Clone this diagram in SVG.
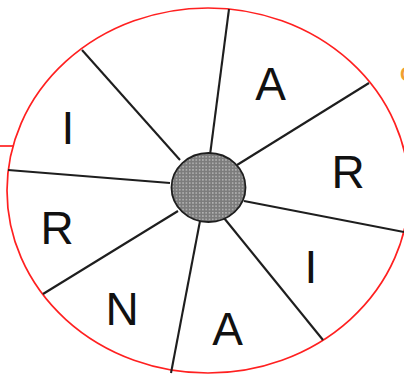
<svg xmlns="http://www.w3.org/2000/svg" width="404" height="378" viewBox="0 0 404 378">
<defs>
<pattern id="dots" width="3.3" height="3.3" patternUnits="userSpaceOnUse">
<rect width="3.3" height="3.3" fill="#7c7c7c"/>
<rect x="1" y="1" width="1.2" height="1.2" fill="#d8d8d8"/>
</pattern>
<style>
.rim{fill:#fff;stroke:#ff2020;stroke-width:1.7}
.spoke{stroke:#1e1e1e;stroke-width:2.1;fill:none}
.lbl{font-family:"Liberation Sans","Open Sans",sans-serif;font-size:46px;fill:#111;text-anchor:middle}
</style>
</defs>
<rect width="404" height="378" fill="#fff"/>
<g id="wheel">
<ellipse class="rim" cx="208" cy="190.5" rx="201" ry="182.5"/>
</g>
<line x1="0" y1="146" x2="14" y2="146" stroke="#ff2020" stroke-width="1.7"/>
<g id="connectors">
<line class="spoke" x1="210" y1="155" x2="229" y2="9"/>
<line class="spoke" x1="237" y1="165" x2="369" y2="83"/>
<line class="spoke" x1="244" y1="201" x2="404" y2="232"/>
<line class="spoke" x1="224" y1="218" x2="323" y2="340"/>
<line class="spoke" x1="200" y1="221" x2="171" y2="373"/>
<line class="spoke" x1="178" y1="211" x2="43" y2="294"/>
<line class="spoke" x1="170" y1="183" x2="8" y2="170"/>
<line class="spoke" x1="180" y1="160" x2="82" y2="50"/>
</g>
<g id="hub">
<ellipse cx="208.5" cy="187.5" rx="37" ry="34.5" fill="url(#dots)" stroke="#1e1e1e" stroke-width="1.8"/>
</g>
<g id="labels">
<text class="lbl" x="270.5" y="100">A</text>
<text class="lbl" x="348" y="188">R</text>
<text class="lbl" x="311" y="283">I</text>
<text class="lbl" x="227.5" y="345">A</text>
<text class="lbl" x="122" y="325">N</text>
<text class="lbl" x="57" y="244">R</text>
<text class="lbl" x="68" y="144">I</text>
</g>
<text x="400" y="81" font-family="Liberation Sans, sans-serif" font-size="20" font-weight="bold" fill="#f0a030">C</text>
</svg>
